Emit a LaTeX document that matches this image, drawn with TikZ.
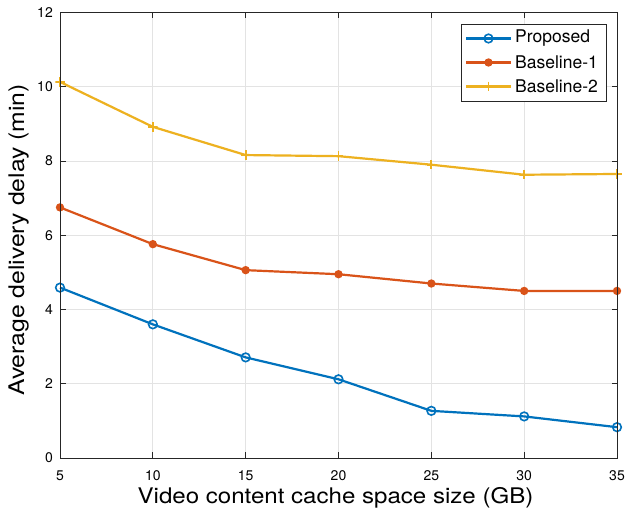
\documentclass[tikz,border=0pt]{standalone}
\usepackage{fontspec}
\setmainfont{TeX Gyre Heros}
\usepackage{graphicx}
\usetikzlibrary{calc}
\definecolor{mblue}{rgb}{0,0.447,0.741}
\definecolor{morange}{rgb}{0.85,0.325,0.098}
\definecolor{myellow}{rgb}{0.929,0.694,0.125}
\definecolor{axcol}{rgb}{0.15,0.15,0.15}
\definecolor{gridcol}{rgb}{0.89,0.89,0.89}
\begin{document}
\begin{tikzpicture}[
  gridline/.style={gridcol, line width=0.9pt},
  axisline/.style={axcol, line width=0.9pt},
  ticklabel/.style={font=\fontsize{14}{16}\selectfont, text=black, inner sep=0pt},
  series/.style={line width=2.2pt, line join=round},
  pmark/.style={circle, draw=mblue, line width=1.6pt, minimum size=8.6pt, inner sep=0pt},
  bamark/.style={circle, fill=morange, minimum size=8.4pt, inner sep=0pt},
  bbmark/.style={rectangle, minimum size=9.5pt, inner sep=0pt,
    path picture={\draw[myellow, line width=1.7pt]
      (path picture bounding box.north) -- (path picture bounding box.south)
      (path picture bounding box.west) -- (path picture bounding box.east);}},
  legtext/.style={font=\fontsize{17.5}{20}\selectfont, text=black, inner sep=0pt, anchor=west},
  axlabel/.style={font=\fontsize{21.5}{24}\selectfont, text=black, inner sep=0pt, anchor=base}
]
\useasboundingbox[fill=white] (0,0) rectangle (626pt,511pt);

\begin{scope}[x=18.5667pt, y=37.125pt, shift={(-32.833pt,53pt)}]
  % grid
  \foreach \gx in {10,15,...,30} \draw[gridline] (\gx,0) -- (\gx,12);
  \foreach \gy in {2,4,...,10} \draw[gridline] (5,\gy) -- (35,\gy);

  % data
  \foreach \i/\vx/\vy in {1/5/4.59, 2/10/3.6, 3/15/2.71, 4/20/2.12, 5/25/1.27, 6/30/1.12, 7/35/0.83}
    \coordinate (p\i) at (\vx,\vy);
  \foreach \i/\vx/\vy in {1/5/6.75, 2/10/5.76, 3/15/5.06, 4/20/4.95, 5/25/4.7, 6/30/4.5, 7/35/4.5}
    \coordinate (a\i) at (\vx,\vy);
  \foreach \i/\vx/\vy in {1/5/10.13, 2/10/8.92, 3/15/8.16, 4/20/8.13, 5/25/7.9, 6/30/7.63, 7/35/7.65}
    \coordinate (b\i) at (\vx,\vy);

  \draw[series, myellow] (b1) \foreach \i in {2,...,7} { -- (b\i) };
  \draw[series, morange] (a1) \foreach \i in {2,...,7} { -- (a\i) };
  \draw[series, mblue] (p1) \foreach \i in {2,...,7} { -- (p\i) };
  \foreach \i in {1,...,7} {
    \node[bbmark] (bm\i) at (b\i) {};
    \node[bamark] (am\i) at (a\i) {};
    \node[pmark] (pm\i) at (p\i) {};
  }

  % axes box and ticks
  \draw[axisline] (5,0) rectangle (35,12);
  \foreach \gx in {5,10,...,35} {
    \draw[axisline] (\gx,0) -- ++(0,5.5pt);
    \draw[axisline] (\gx,12) -- ++(0,-5.5pt);
    \node[ticklabel, anchor=north] (xt\gx) at ([yshift=-12.5pt]\gx,0) {\gx};
  }
  \foreach \gy in {0,2,...,12} {
    \draw[axisline] (5,\gy) -- ++(5.5pt,0);
    \draw[axisline] (35,\gy) -- ++(-5.5pt,0);
    \node[ticklabel, anchor=east] (yt\gy) at ([xshift=-7pt]5,\gy) {\gy};
  }
\end{scope}

% axis labels
\node[axlabel] (xlab) at (335.5pt,8pt) {\scalebox{1.12}[1]{Video content cache space size (GB)}};
\node[axlabel, rotate=90] (ylab) at (24pt,271pt) {\scalebox{1.15}[1]{Average delivery delay (min)}};

% legend
\draw[fill=white, draw=axcol, line width=0.6pt] (461pt,410pt) rectangle (606pt,487pt);
\coordinate (l1a) at (466pt,472.5pt); \coordinate (l1b) at (511pt,472.5pt);
\coordinate (l2a) at (466pt,448.5pt); \coordinate (l2b) at (511pt,448.5pt);
\coordinate (l3a) at (466pt,424.5pt); \coordinate (l3b) at (511pt,424.5pt);
\draw[series, mblue] (l1a) -- (l1b);
\draw[series, morange] (l2a) -- (l2b);
\draw[series, myellow] (l3a) -- (l3b);
\node[pmark] (lm1) at ($(l1a)!0.5!(l1b)$) {};
\node[bamark] (lm2) at ($(l2a)!0.5!(l2b)$) {};
\node[bbmark] (lm3) at ($(l3a)!0.5!(l3b)$) {};
\node[legtext] (lt1) at (515pt,472.5pt) {Proposed};
\node[legtext] (lt2) at (515pt,448.5pt) {Baseline-1};
\node[legtext] (lt3) at (515pt,424.5pt) {Baseline-2};
\end{tikzpicture}
\end{document}
